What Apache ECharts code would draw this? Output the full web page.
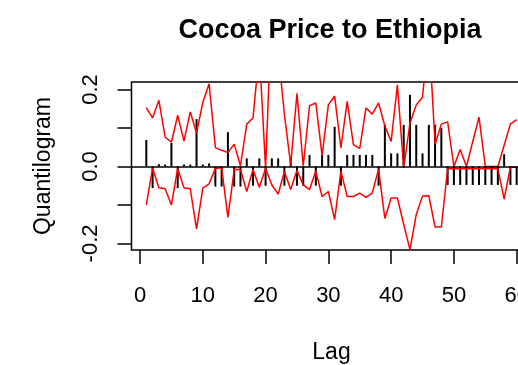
<!DOCTYPE html>
<html><head><meta charset="utf-8">
<script src="https://cdn.jsdelivr.net/npm/echarts@6/dist/echarts.min.js"></script>
<style>html,body{margin:0;padding:0;background:#fff}#c{width:518px;height:365px}</style>
</head><body><div id="c"></div>
<script>
const lags = [1,2,3,4,5,6,7,8,9,10,11,12,13,14,15,16,17,18,19,20,21,22,23,24,25,26,27,28,29,30,
  31,32,33,34,35,36,37,38,39,40,41,42,43,44,45,46,47,48,49,50,51,52,53,54,55,56,57,58,59,60];
const quantilogram = [0.069,-0.056,0.006,0.005,0.061,-0.056,0.005,0.005,0.123,0.005,
  0.008,-0.052,-0.052,0.089,-0.052,-0.052,0.021,-0.05,0.021,-0.05,
  0.021,0.021,-0.05,0.024,-0.05,-0.05,0.03,-0.05,0.03,0.03,
  0.103,-0.05,0.03,0.03,0.03,0.03,0.03,-0.05,0.108,0.034,
  0.034,0.108,0.186,0.108,0.034,0.108,0.108,0.1,-0.048,-0.048,
  -0.048,-0.048,-0.048,-0.048,-0.048,-0.048,-0.048,0.032,-0.048,-0.048];
const upperBand = [0.153,0.126,0.172,0.076,0.063,0.133,0.066,0.142,0.087,0.166,
  0.215,0.049,0.042,0.036,0.058,0.002,0.11,0.126,0.30,-0.005,
  0.42,0.30,0.135,0.004,0.19,0.002,0.158,0.165,0.028,0.16,
  0.183,0.048,0.169,0.056,0.047,0.152,0.136,0.165,0.105,0.065,
  0.212,-0.004,0.113,0.16,0.18,0.35,0.058,0.11,0.116,0.0,
  0.044,0.0,0.065,0.128,0.0,0.0,0.0,0.055,0.11,0.122];
const lowerBand = [-0.1,-0.004,-0.055,-0.058,-0.1,-0.005,-0.055,-0.058,-0.162,-0.056,
  -0.045,-0.005,-0.003,-0.132,-0.008,-0.008,-0.065,-0.008,-0.054,-0.005,
  -0.048,-0.072,-0.013,-0.06,-0.01,-0.048,-0.06,-0.012,-0.078,-0.065,
  -0.138,-0.012,-0.078,-0.078,-0.069,-0.08,-0.069,-0.007,-0.135,-0.082,
  -0.082,-0.15,-0.216,-0.125,-0.077,-0.076,-0.157,-0.157,-0.006,-0.006,
  -0.006,-0.006,-0.006,-0.006,-0.006,-0.006,-0.006,-0.085,-0.002,-0.002];
const xTicks = [0,10,20,30,40,50,60];
const yTicks = [-0.2,-0.1,0,0.1,0.2];
const yLabels = [-0.2,0,0.2];

const font = '"Liberation Sans", Arial, sans-serif';
const pair = arr => lags.map((l, i) => [l, arr[i]]);
const chart = echarts.init(document.getElementById('c'), null, {renderer: 'canvas'});
chart.setOption({
  animation: false,
  backgroundColor: '#fff',
  title: {
    text: 'Cocoa Price to Ethiopia', left: 325, top: 12, textAlign: 'center',
    textStyle: {fontFamily: font, fontSize: 27, fontWeight: 'bold', color: '#000'}
  },
  grid: {left: 131.5, top: 82, width: 400, height: 168, show: true, outerBoundsMode: 'none',
    containLabel: false, borderColor: '#000', borderWidth: 1.5, backgroundColor: 'transparent'},
  xAxis: {
    type: 'value', min: -1.36, max: 62.36,
    name: 'Lag', nameLocation: 'middle', nameGap: 91,
    nameTextStyle: {fontFamily: font, fontSize: 23, color: '#000'},
    axisLine: {show: false, onZero: false},
    axisTick: {show: true, length: 14, inside: false, customValues: xTicks,
      lineStyle: {color: '#000', width: 1.5}},
    axisLabel: {customValues: xTicks, margin: 35, fontSize: 22, color: '#000', fontFamily: font},
    splitLine: {show: false}
  },
  yAxis: {
    type: 'value', min: -0.217, max: 0.2195,
    name: 'Quantilogram', nameLocation: 'middle', nameGap: 76, nameRotate: 90,
    nameTextStyle: {fontFamily: font, fontSize: 23, color: '#000'},
    axisLine: {show: false, onZero: false},
    axisTick: {show: true, length: 14, inside: false, customValues: yTicks,
      lineStyle: {color: '#000', width: 1.5}},
    axisLabel: {customValues: yLabels, rotate: 90, margin: 30, fontSize: 22, color: '#000',
      fontFamily: font, formatter: v => Number(v).toFixed(1)},
    splitLine: {show: false}
  },
  series: [
    {type: 'bar', name: 'Quantilogram', data: pair(quantilogram), barWidth: 2,
      itemStyle: {color: '#000'}, z: 2,
      markLine: {silent: true, symbol: 'none', label: {show: false},
        lineStyle: {color: '#000', width: 1.5, type: 'solid'}, data: [{yAxis: 0}]}},
    {type: 'line', name: 'Upper', data: pair(upperBand), showSymbol: false, symbol: 'none',
      lineStyle: {color: '#ff0000', width: 1.5}, itemStyle: {color: '#ff0000'}, clip: true, z: 3},
    {type: 'line', name: 'Lower', data: pair(lowerBand), showSymbol: false, symbol: 'none',
      lineStyle: {color: '#ff0000', width: 1.5}, itemStyle: {color: '#ff0000'}, clip: true, z: 3}
  ]
});
</script></body></html>
